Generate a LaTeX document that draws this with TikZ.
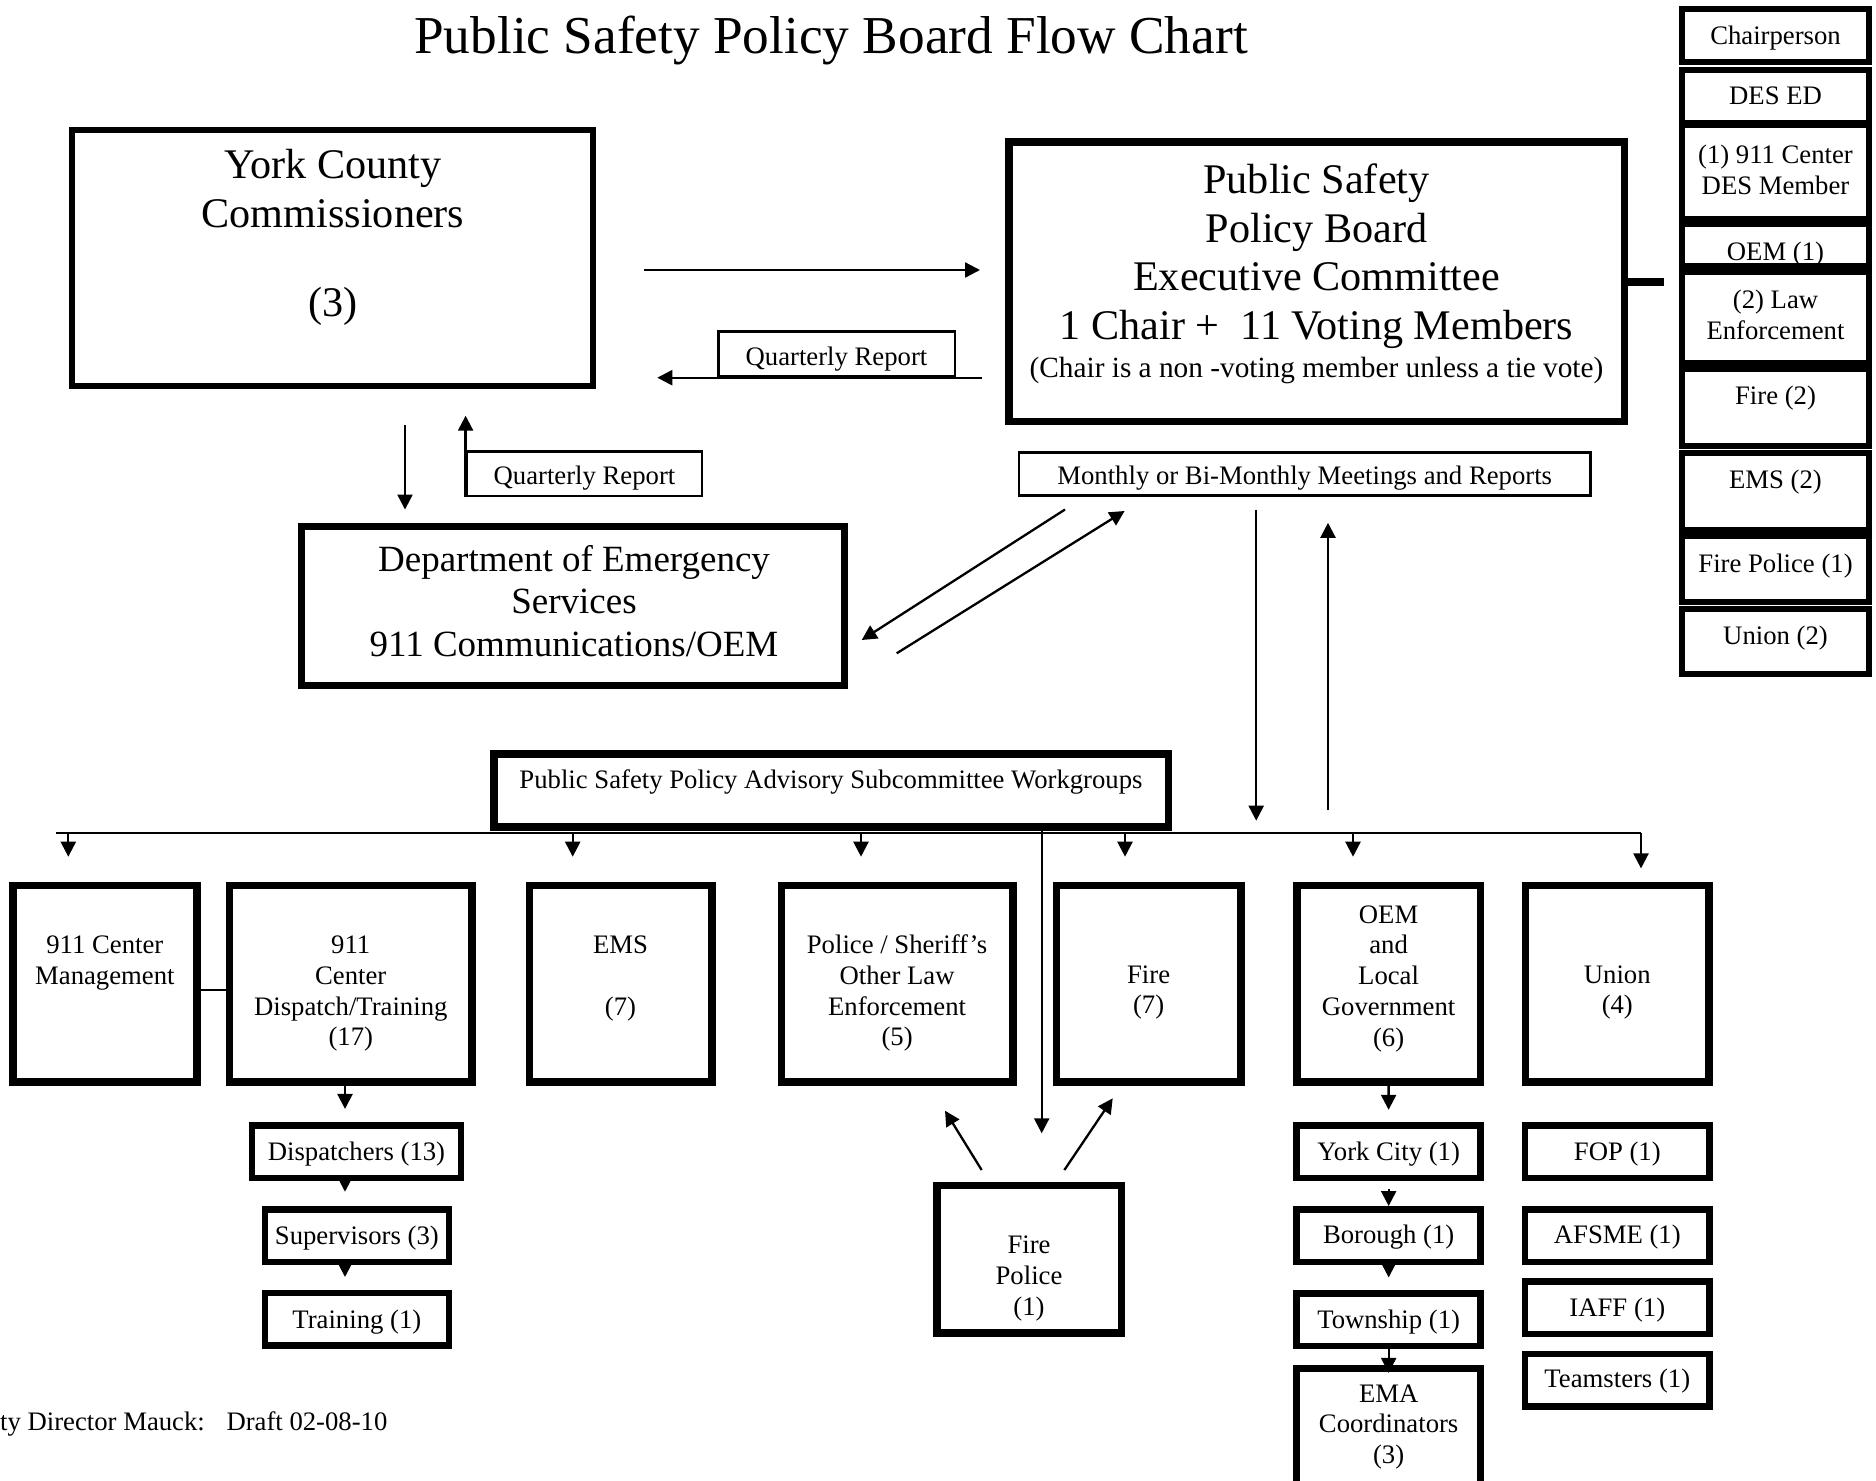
\documentclass[tikz,border=0pt]{standalone}
\usepackage{fontspec}
\setmainfont{Liberation Serif}
\usetikzlibrary{arrows.meta,positioning,calc}
\tikzset{
  >={Triangle[length=15pt,width=15pt]},
  wbox/.style={rectangle,draw,line width=7.5pt,inner sep=0pt},
  cellbox/.style={rectangle,draw,line width=6pt,inner sep=0pt,minimum width=186.4pt},
  subbox/.style={rectangle,draw,line width=6.5pt,inner sep=0pt,
                 minimum width=184pt,minimum height=52.5pt},
  tbox/.style={rectangle,draw,line width=2.5pt,inner sep=0pt},
  txt/.style={font=\fontsize{26.7}{30.7}\selectfont,align=center,
              inner sep=0pt,anchor=north,yshift=21.5pt},
  bigtxt/.style={font=\fontsize{42.2}{48.5}\selectfont,align=center,
                 inner sep=0pt,anchor=north,yshift=33.95pt},
  destxt/.style={font=\fontsize{37}{42.6}\selectfont,align=center,
                 inner sep=0pt,anchor=north,yshift=29.8pt},
  notetxt/.style={font=\fontsize{29.3}{33.7}\selectfont,align=center,
                  inner sep=0pt,anchor=north,yshift=23.6pt},
  arr/.style={->,line width=2.3pt},
  link/.style={line width=2.3pt},
}
\begin{document}
\begin{tikzpicture}[x=1pt,y=-1pt]
    \useasboundingbox (0,0) rectangle (1876,1480);

    % Title
    \node[font=\fontsize{53.3}{61}\selectfont,inner sep=0pt,anchor=base]
          (title) at (831,53) {Public Safety Policy Board Flow Chart};

    % Top boxes
    \node[wbox,line width=6pt,minimum width=521.4pt,minimum height=256pt]
          (york) at (332.6,257.9) {};
    \node[bigtxt] (york-t) at (333,178.5)
          {\strut York County\\Commissioners\\[41pt](3)};
    \node[wbox,minimum width=615.9pt,minimum height=279.5pt]
          (pspb) at (1316.7,281.8) {};
    \node[bigtxt] (pspb-t) at (1316.5,193.5)
          {\strut Public Safety\\Policy Board\\Executive Committee\\1 Chair +~ 11 Voting Members};
    \node[notetxt] (pspb-n) at (1316.5,377.4)
          {\strut (Chair is a non -voting member unless a tie vote)};
    \node[wbox,minimum width=542.9pt,minimum height=159pt]
          (des) at (573,606.2) {};
    \node[destxt] (des-t) at (574,571)
          {\strut Department of Emergency\\Services\\911 Communications/OEM};

    % Report labels
    \node[tbox,minimum width=236.2pt,minimum height=44.8pt] (qr1) at (836.7,353.7) {};
    \node[txt] (qr1-t) at (836.5,365.2) {\strut Quarterly Report};
    \node[tbox,minimum width=235.3pt,minimum height=44.5pt] (qr2) at (584.5,473.7) {};
    \node[txt] (qr2-t) at (584.5,484.5) {\strut Quarterly Report};
    \node[tbox,minimum width=571.5pt,minimum height=43.1pt] (meet) at (1304.7,474.1) {};
    \node[txt] (meet-t) at (1304.7,484) {\strut Monthly or Bi-Monthly Meetings and Reports};

    % Member column
    \foreach \n/\tp/\hh/\ty/\s in {chair/6/53/44.5/Chairperson,
        desed/66.7/53.3/104.2/DES ED,
        c911/122.3/93.7/163.7/{(1) 911 Center\\DES Member},
        oem1/220.7/42.6/260/OEM (1),
        law/269/91/308.7/{(2) Law\\Enforcement},
        fire2/365.7/77.6/404.5/Fire (2),
        ems2/450/77.3/488.8/EMS (2),
        fpol/533.3/66/572.5/Fire Police (1),
        union2/605.7/65.6/644/Union (2)}{
      \node[cellbox,minimum height=\hh pt,anchor=north] (\n) at (1775.5,\tp) {};
      \node[txt] (\n-t) at (1775.5,\ty) {\strut\s};
    }
    \draw[line width=8pt,shorten >=15pt] (pspb.east) -- (pspb.east -| law.west);

    % Subcommittee and workgroups
    \node[wbox,minimum width=674.5pt,minimum height=72.7pt] (sub) at (831,790.5) {};
    \node[txt] (sub-t) at (831,788.5)
          {\strut Public Safety Policy Advisory Subcommittee Workgroups};
    \foreach \n/\x/\w/\ty/\s in {
        mgmt/104.85/184.2/953.5/{911 Center\\Management},
        disp/350.75/242.6/953.5/{911\\Center\\Dispatch/Training\\(17)},
        ems/620.55/182.6/953.5/{EMS\\[30.7pt](7)},
        police/897.1/231.7/953.5/{Police / Sheriff’s\\Other Law\\Enforcement\\(5)},
        fire/1148.6/184.3/983/{Fire\\(7)},
        oem/1388.6/183.3/923/{OEM\\and\\Local\\Government\\(6)},
        union/1617.3/183.5/983/{Union\\(4)}}{
      \node[wbox,minimum width=\w pt,minimum height=196.5pt] (\n) at (\x,983.7) {};
      \node[txt] (\n-t) at (\x,\ty) {\strut\s};
    }

    % Members of the workgroups
    \foreach \n/\x/\y/\w/\ty/\s in {
        dsp/356.5/1151.75/209.1/1160.5/Dispatchers (13),
        sup/356.85/1235.55/184.2/1244/Supervisors (3),
        trn/356.85/1319.3/184.2/1328/Training (1),
        yc/1388.65/1151.7/184/1160.2/York City (1),
        bor/1388.65/1235.5/184/1243.5/Borough (1),
        twp/1388.65/1319.65/184/1327.8/Township (1),
        fop/1617.3/1151.7/184.3/1160.2/FOP (1),
        afs/1617.3/1235.5/184.3/1243.5/AFSME (1),
        iaff/1617.3/1307.85/184.3/1316.2/IAFF (1),
        team/1617.3/1380/184.3/1386.8/Teamsters (1)}{
      \node[subbox,minimum width=\w pt] (\n) at (\x,\y) {};
      \node[txt] (\n-t) at (\x,\ty) {\strut\s};
    }
    \node[subbox,minimum height=118pt] (ema) at (1388.65,1427.5) {};
    \node[txt] (ema-t) at (1388.65,1401.8) {\strut EMA\\Coordinators\\(3)};
    \node[wbox,minimum width=184.2pt,minimum height=147.5pt] (fp) at (1029.15,1259.2) {};
    \node[txt] (fp-t) at (1029,1253.5) {\strut Fire\\Police\\(1)};

    % Footer
    \node[txt,anchor=north west] (foot) at (0,1430.5)
          {\strut ty Director Mauck:\hspace*{21.7pt}Draft 02-08-10};

    % Helper points
    \coordinate (busL) at (56,833);
    \coordinate (busR) at (1641,833);
    \coordinate (mdown) at ($(meet.south)+(-48.5,0)$);
    \coordinate (mup) at ($(meet.south)+(23.3,0)$);
    \coordinate (fpx) at (1041.7,0);
    \coordinate (dx) at (345,0);

    % Arrows
    \draw[arr] ($(york.east)+(47.7,12.1)$) -- ($(pspb.west)+(-25,-11.8)$);
    \draw[arr] ($(pspb.west)+(-23.3,95.9)$) -- ($(york.east)+(61,119.8)$);
    \draw[arr] ($(york.south)+(72.4,36.4)$) -- ($(des.north)+(-168,-13.4)$);
    \draw[arr,shorten >=26.8pt] (qr2.south west) -- (qr2.south west |- york.south);
    \draw[arr] ($(meet.south west)+(47.3,12.6)$) -- ($(des.east)+(13.5,33.8)$);
    \draw[arr] ($(des.east)+(48.5,47.1)$) -- ($(meet.south west)+(106.9,14.1)$);
    \draw[arr,shorten <=12.8pt,shorten >=12.3pt] (mdown) -- (mdown |- busL);
    \draw[arr,shorten <=23pt,shorten >=25.9pt] (mup |- busL) -- (mup);

    \draw[link] (busL) -- (busR);
    \foreach \x/\b in {68.3/mgmt,572.7/ems,861/police,1125/fire,1353/oem}{
      \draw[arr,shorten >=25pt] (busL -| \x,0) -- (\x,0 |- \b.north);
    }
    \draw[arr,shorten >=13.3pt] (busR) -- (busR |- union.north);
    \draw[link] ($(mgmt.east)+(0,6.3)$) -- ($(disp.west)+(0,6.3)$);

    \draw[arr,shorten >=48.4pt] (sub.south -| fpx) -- (fp.north -| fpx);
    \draw[arr] ($(fp.north)+(-47.5,-11.7)$) -- ($(police.south)+(47.9,25)$);
    \draw[arr] ($(fp.north)+(35.2,-11.7)$) -- ($(fire.south)+(-35.9,12.6)$);

    \foreach \a/\b/\s in {disp/dsp/13.3,dsp/sup/14.3,sup/trn/12.8}{
      \draw[arr,shorten >=\s pt] (\a.south -| dx) -- (\b.north -| dx);
    }
    \foreach \a/\b/\r/\s in {oem/yc/0/12.4,yc/bor/8/0,bor/twp/0/12.7,twp/ema/0/-7.7}{
      \draw[arr,shorten <=\r pt,shorten >=\s pt] (\a.south) -- (\b.north);
    }
\end{tikzpicture}
\end{document}
